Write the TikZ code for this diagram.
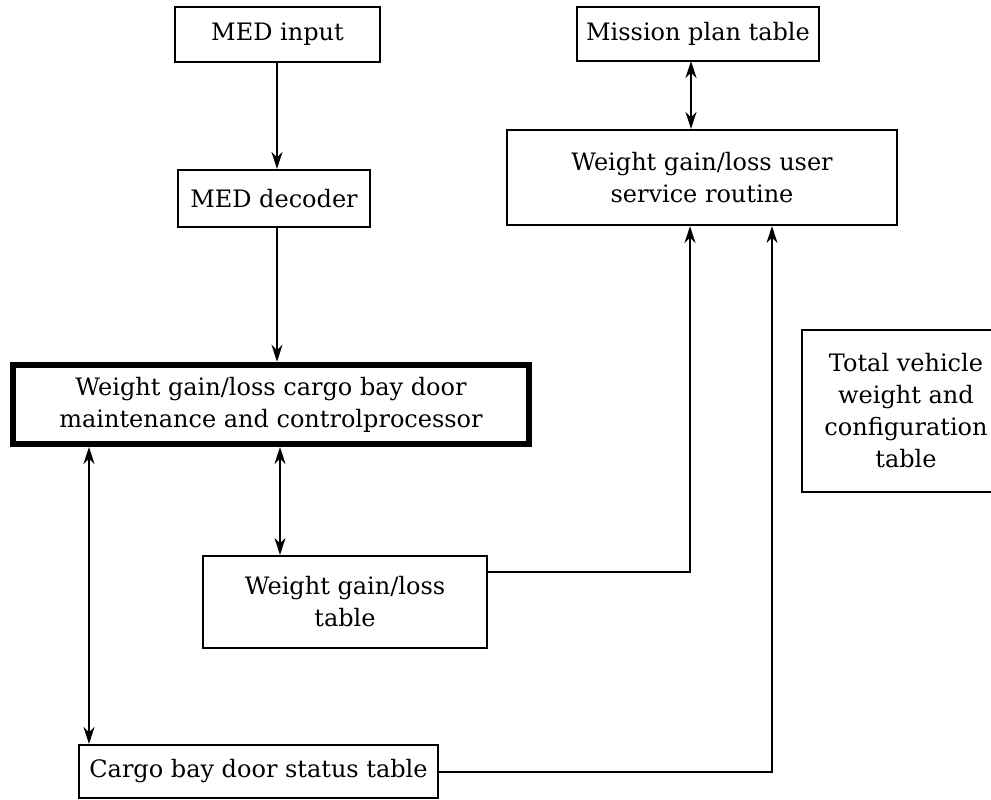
\documentclass[tikz,border=0pt]{standalone}
\usepackage{fontspec}
\setmainfont{DejaVu Serif}
\usetikzlibrary{arrows.meta}
\begin{document}
\begin{tikzpicture}[x=1pt,y=-1pt,
  box/.style={draw, line width=2.2pt, rectangle, inner sep=0pt, align=center, font=\fontsize{24}{32}\selectfont},
  thickbox/.style={box, line width=6.5pt},
  conn/.style={line width=2pt, -{Stealth[length=17pt,width=11pt]}},
  bconn/.style={line width=2pt, {Stealth[length=17pt,width=11pt]}-{Stealth[length=17pt,width=11pt]}},
  plain/.style={line width=2pt}]
\useasboundingbox (0,0) rectangle (991,800);
\node[box, minimum width=205pt, minimum height=55pt] (medin) at (277.5,34.5) {MED input};
\node[box, minimum width=192pt, minimum height=57pt] (dec) at (274,198.5) {MED decoder};
\node[box, minimum width=242pt, minimum height=54pt] (mission) at (698,34) {Mission plan table};
\node[box, minimum width=390pt, minimum height=95pt] (user) at (702,177.5) {Weight gain/loss user\\service routine};
\node[thickbox, minimum width=516pt, minimum height=79pt] (proc) at (271,404.5) {Weight gain/loss cargo bay door\\maintenance and controlprocessor};
\node[box, minimum width=284pt, minimum height=92pt] (wtab) at (345,602) {Weight gain/loss\\table};
\node[box, minimum width=359pt, minimum height=53pt] (cargo) at (258.5,771.5) {Cargo bay door status table};
\node[box, minimum width=208pt, minimum height=162pt] (total) at (906,411) {Total vehicle\\weight and\\configuration\\table};
% helper coordinates
\coordinate (a1) at (277,62);
\coordinate (a2) at (277,227);
\coordinate (m1) at (691,61);
\coordinate (p1) at (280,447);
\coordinate (p2) at (89,447);
\coordinate (w1) at (690,572);
\coordinate (c1) at (772,772);
\draw[conn] (a1) -- (a1 |- dec.north);
\draw[conn] (a2) -- (a2 |- proc.north);
\draw[bconn] (m1) -- (m1 |- user.north);
\draw[bconn] (p1) -- (p1 |- wtab.north);
\draw[bconn] (p2) -- (p2 |- cargo.north);
\draw[conn] (wtab.east |- w1) -- (w1) -- (w1 |- user.south);
\draw[conn] (cargo.east |- c1) -- (c1) -- (c1 |- user.south);
\end{tikzpicture}
\end{document}
